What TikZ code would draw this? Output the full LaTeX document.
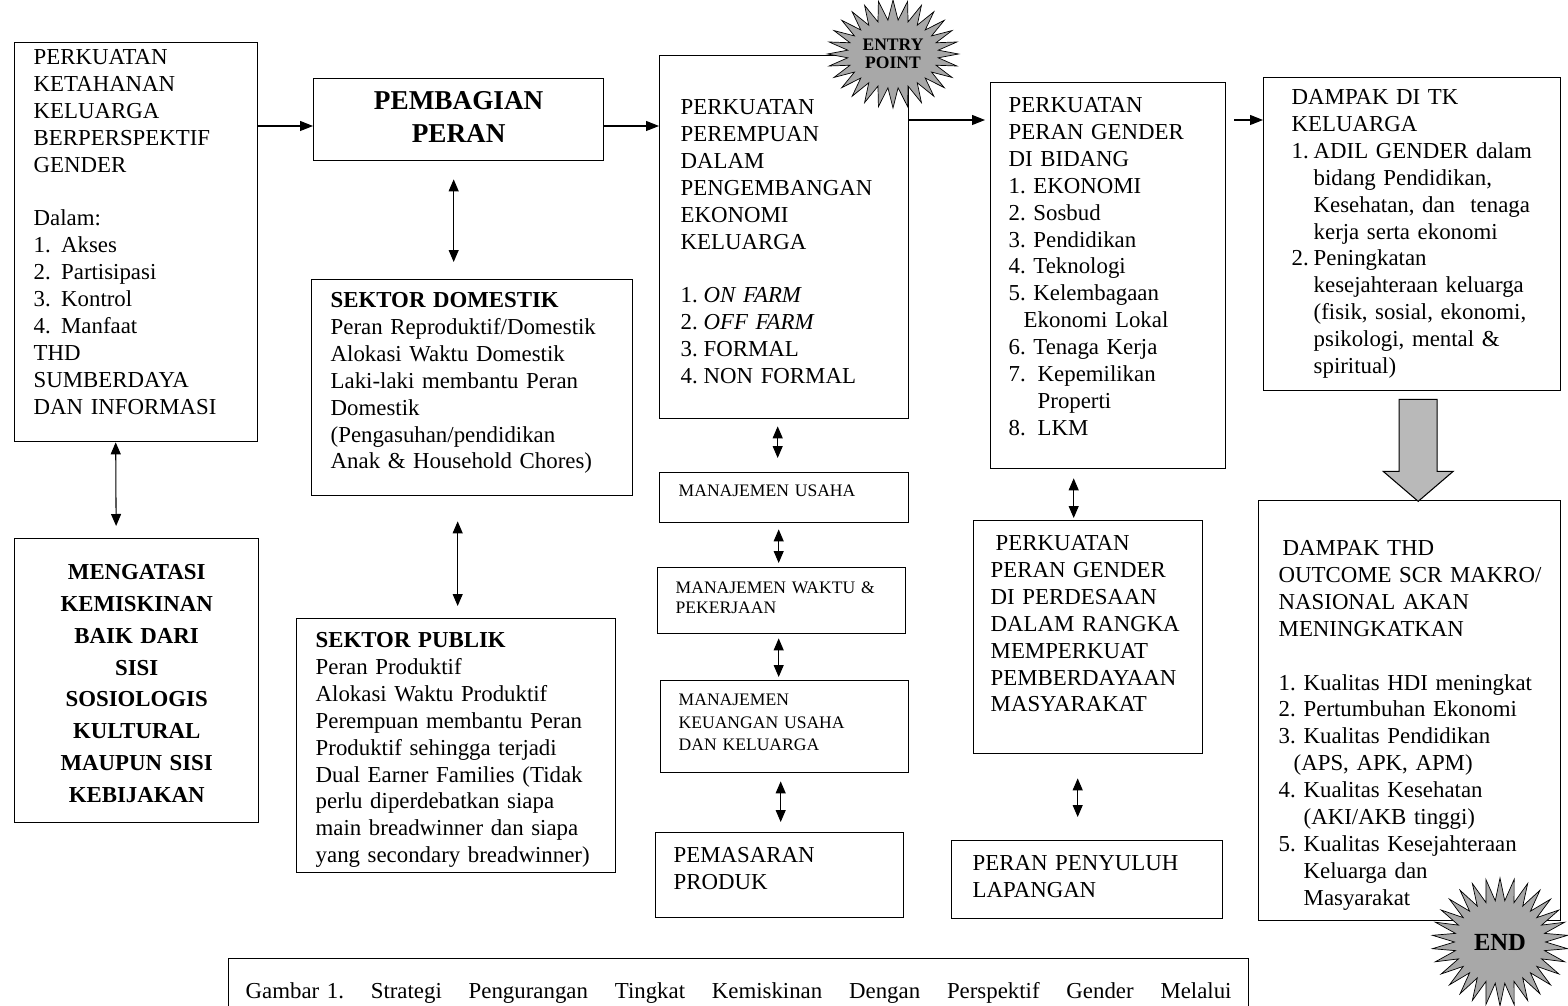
\documentclass[tikz,border=0pt]{standalone}
\usepackage{fontspec}
\setmainfont{Liberation Serif}
\usetikzlibrary{arrows.meta,shapes.symbols,calc}

\newcommand{\itemno}[2][0.46cm]{\makebox[#1][l]{#2}}
\frenchspacing

\begin{document}
\begin{tikzpicture}[x=0.02cm,y=-0.02cm,
  box/.style={draw,line width=0.8pt,anchor=north west,inner ysep=0pt,align=left,
    font=\fontsize{13}{15.3}\selectfont},
  smallbox/.style={box,font=\fontsize{10}{11.4}\selectfont},
  arr/.style={line width=0.6pt,-{Triangle[length=0.26cm,width=0.2cm]}},
  biarr/.style={line width=0.6pt,{Triangle[length=0.24cm,width=0.2cm]}-{Triangle[length=0.24cm,width=0.2cm]}},
  burst/.style={draw,fill=gray!68,starburst,random starburst=0,align=center,inner sep=1pt},
  bigarr/.style={draw,line width=0.6pt,fill=gray!55}]
\useasboundingbox (0,0) rectangle (1568,1006);
\clip (0,0) rectangle (1568,1006);

% left column
\node[box,text width=4.10cm,inner xsep=0.38cm,text height=0.44cm,text depth=7.54cm] (ketahanan) at (14,42)
  {PERKUATAN\\KETAHANAN\\KELUARGA\\BERPERSPEKTIF\\GENDER\\[15.3pt]
   Dalam:\\\itemno[0.55cm]{1.}Akses\\\itemno[0.55cm]{2.}Partisipasi\\\itemno[0.55cm]{3.}Kontrol\\\itemno[0.55cm]{4.}Manfaat\\
   THD\\SUMBERDAYA\\DAN INFORMASI};
\node[box,align=center,font=\bfseries\fontsize{13}{18.1}\selectfont,text width=4.68cm,inner xsep=0.1cm,text height=0.82cm,text depth=4.86cm] (kemiskinan) at (14,538)
  {MENGATASI\\KEMISKINAN\\BAIK DARI\\SISI\\SOSIOLOGIS\\KULTURAL\\MAUPUN SISI\\KEBIJAKAN};
\draw[biarr,shorten >=0.24cm] ([xshift=-0.41cm]ketahanan.south) -- ([xshift=-0.41cm]kemiskinan.north);

% peran
\node[box,align=center,font=\bfseries\fontsize{15.5}{18.7}\selectfont,text width=5.4cm,inner xsep=0.2cm,text height=0.62cm,text depth=1.02cm] (pembagian) at (313,78)
  {PEMBAGIAN\\PERAN};
\node[box,text width=5.66cm,inner xsep=0.38cm,text height=0.56cm,text depth=3.76cm] (domestik) at (311,279)
  {\textbf{SEKTOR DOMESTIK}\\Peran Reproduktif/Domestik\\Alokasi Waktu Domestik\\Laki-laki membantu Peran\\Domestik\\
   (Pengasuhan/pendidikan\\Anak \& Household Chores)};
\node[box,text width=5.62cm,inner xsep=0.38cm,text height=0.58cm,text depth=4.5cm] (publik) at (296,618)
  {\textbf{SEKTOR PUBLIK}\\Peran Produktif\\Alokasi Waktu Produktif\\Perempuan membantu Peran\\Produktif sehingga terjadi\\
   Dual Earner Families (Tidak\\perlu diperdebatkan siapa\\main breadwinner dan siapa\\yang secondary breadwinner)};
\path ([xshift=-0.1cm]pembagian.south) coordinate (bh);
\draw[biarr,shorten <=0.36cm,shorten >=0.34cm] (bh) -- (bh |- domestik.north);
\path ([xshift=-0.29cm]domestik.south) coordinate (hi);
\draw[biarr,shorten <=0.5cm,shorten >=0.24cm] (hi) -- (hi |- publik.north);

% ekonomi keluarga
\node[box,text width=4.14cm,inner xsep=0.42cm,text height=1.18cm,text depth=6.08cm] (perempuan) at (659,55)
  {PERKUATAN\\PEREMPUAN\\DALAM\\PENGEMBANGAN\\EKONOMI\\KELUARGA\\[15.3pt]
   \itemno{1.}\textit{ON FARM}\\\itemno{2.}\textit{OFF FARM}\\\itemno{3.}FORMAL\\\itemno{4.}NON FORMAL};
\node[smallbox,text width=4.22cm,inner xsep=0.38cm,text height=0.48cm,text depth=0.52cm] (usaha) at (659,472)
  {MANAJEMEN USAHA};
\node[smallbox,text width=4.24cm,inner xsep=0.36cm,text height=0.52cm,text depth=0.8cm] (waktu) at (657,567)
  {MANAJEMEN WAKTU \&\\PEKERJAAN};
\node[smallbox,font=\fontsize{10}{12.8}\selectfont,text width=4.24cm,inner xsep=0.36cm,text height=0.5cm,text depth=1.34cm] (keuangan) at (660,680)
  {MANAJEMEN\\KEUANGAN USAHA\\DAN KELUARGA};
\node[box,text width=4.24cm,inner xsep=0.36cm,text height=0.6cm,text depth=1.1cm] (pemasaran) at (655,832)
  {PEMASARAN\\PRODUK};
\path ([xshift=-0.13cm]perempuan.south) coordinate (cj);
\draw[biarr,shorten <=0.14cm,shorten >=0.28cm] (cj) -- (cj |- usaha.north);
\path ([xshift=-0.11cm]usaha.south) coordinate (jk);
\draw[biarr,shorten <=0.12cm,shorten >=0.08cm] (jk) -- (jk |- waktu.north);
\path ([xshift=-0.06cm]waktu.south) coordinate (kl);
\draw[biarr,shorten <=0.08cm,shorten >=0.06cm] (kl) -- (kl |- keuangan.north);
\path ([xshift=-0.08cm]keuangan.south) coordinate (lm);
\draw[biarr,shorten <=0.16cm,shorten >=0.2cm] (lm) -- (lm |- pemasaran.north);

% gender
\node[box,text width=3.98cm,inner xsep=0.36cm,text height=0.6cm,text depth=7.12cm] (bidang) at (990,82)
  {PERKUATAN\\PERAN GENDER\\DI BIDANG\\1. EKONOMI\\2. Sosbud\\3. Pendidikan\\4. Teknologi\\5. Kelembagaan\\
   \hspace*{0.3cm}Ekonomi Lokal\\6. Tenaga Kerja\\\itemno[0.58cm]{7.}Kepemilikan\\\hspace*{0.58cm}Properti\\\itemno[0.58cm]{8.}LKM};
\node[box,text width=3.9cm,inner xsep=0.34cm,text height=0.6cm,text depth=4.06cm] (perdesaan) at (973,520)
  {\hspace*{0.1cm}PERKUATAN\\PERAN GENDER\\DI PERDESAAN\\DALAM RANGKA\\MEMPERKUAT\\PEMBERDAYAAN\\MASYARAKAT};
\node[box,text width=4.58cm,inner xsep=0.42cm,text height=0.6cm,text depth=0.96cm] (penyuluh) at (951,840)
  {PERAN PENYULUH\\LAPANGAN};
\path ([xshift=-0.69cm]bidang.south) coordinate (dn);
\draw[biarr,shorten <=0.18cm,shorten >=0.04cm] (dn) -- (dn |- perdesaan.north);
\path ([xshift=-0.21cm]perdesaan.south) coordinate (no);
\draw[biarr,shorten <=0.48cm,shorten >=0.46cm] (no) -- (no |- penyuluh.north);

% dampak
\node[box,text width=4.82cm,inner xsep=0.56cm,text height=0.54cm,text depth=5.72cm] (dampaktk) at (1263,77)
  {DAMPAK DI TK\\KELUARGA\\\itemno[0.44cm]{1.}ADIL GENDER dalam\\\hspace*{0.44cm}bidang Pendidikan,\\
   \hspace*{0.44cm}Kesehatan, dan\ \ tenaga\\\hspace*{0.44cm}kerja serta ekonomi\\\itemno[0.44cm]{2.}Peningkatan\\
   \hspace*{0.44cm}kesejahteraan keluarga\\\hspace*{0.44cm}(fisik, sosial, ekonomi,\\\hspace*{0.44cm}psikologi, mental \&\\
   \hspace*{0.44cm}spiritual)};
\node[box,text width=5.48cm,inner xsep=0.28cm,text height=1.1cm,text depth=7.3cm] (makro) at (1258,500)
  {\hspace*{0.2cm}DAMPAK THD\\\hspace*{0.12cm}OUTCOME SCR MAKRO/\\\hspace*{0.12cm}NASIONAL AKAN\\\hspace*{0.12cm}MENINGKATKAN\\[15.3pt]
   \hspace*{0.12cm}\itemno[0.5cm]{1.}Kualitas HDI meningkat\\\hspace*{0.12cm}\itemno[0.5cm]{2.}Pertumbuhan Ekonomi\\
   \hspace*{0.12cm}\itemno[0.5cm]{3.}Kualitas Pendidikan\\\hspace*{0.42cm}(APS, APK, APM)\\
   \hspace*{0.12cm}\itemno[0.5cm]{4.}Kualitas Kesehatan\\\hspace*{0.62cm}(AKI/AKB tinggi)\\
   \hspace*{0.12cm}\itemno[0.5cm]{5.}Kualitas Kesejahteraan\\\hspace*{0.62cm}Keluarga dan\\\hspace*{0.62cm}Masyarakat};
\path[bigarr] (dampaktk.south) ++(-13,8) -- ++(38,0) -- ++(0,72) -- ++(16,0) -- ++(-35,30) -- ++(-35,-30) -- ++(16,0) -- cycle;

% main flow
\coordinate (row1) at (0,126);
\coordinate (row2) at (0,120);
\draw[arr] (ketahanan.east |- row1) -- (pembagian.west |- row1);
\draw[arr] (pembagian.east |- row1) -- (perempuan.west |- row1);
\draw[arr,shorten >=0.1cm] (perempuan.east |- row2) -- (bidang.west |- row2);
\draw[arr,shorten <=0.16cm] (bidang.east |- row2) -- (dampaktk.west |- row2);

\node[burst,starburst points=28,starburst point height=0.4cm,minimum width=2.44cm,minimum height=2.16cm,
  font=\bfseries\fontsize{10}{10.5}\selectfont] (entry) at (893,54) {ENTRY\\POINT};
\node[burst,starburst points=30,starburst point height=0.45cm,minimum width=2.72cm,minimum height=2.56cm,
  font=\bfseries\fontsize{14}{15}\selectfont] (end) at (1500,942) {END};

% caption
\node[box,text width=19.72cm,inner xsep=0.34cm,text height=0.8cm,text depth=0.8cm] (caption) at (228,958)
  {\makebox[19.72cm][l]{Gambar 1.\hfill Strategi\hfill Pengurangan\hfill Tingkat\hfill Kemiskinan\hfill Dengan\hfill Perspektif\hfill Gender\hfill Melalui}};
\end{tikzpicture}
\end{document}
